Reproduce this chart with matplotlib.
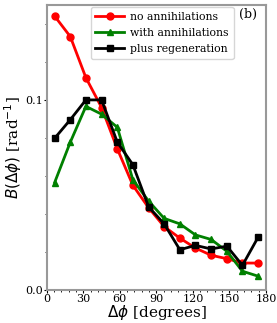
import numpy as np
import matplotlib
matplotlib.use("Agg")
import matplotlib.pyplot as plt
from matplotlib.ticker import MultipleLocator, AutoMinorLocator

# bin centres (14 bins over 0-180 degrees)
dphi = [6.4, 19.3, 32.1, 45.0, 57.9, 70.7, 83.6, 96.4, 109.3, 122.1, 135.0, 147.9, 160.7, 173.6]

no_annih = [0.1441, 0.1333, 0.1117, 0.0960, 0.0743, 0.0551, 0.0433, 0.0334,
            0.0273, 0.0221, 0.0183, 0.0165, 0.0142, 0.0142]
with_annih = [0.0565, 0.0778, 0.0966, 0.0925, 0.0856, 0.0580, 0.0468, 0.0377,
              0.0348, 0.0290, 0.0266, 0.0204, 0.0099, 0.0073]
plus_regen = [0.0798, 0.0896, 0.1000, 0.1000, 0.0778, 0.0659, 0.0438, 0.0348,
              0.0212, 0.0235, 0.0216, 0.0231, 0.0130, 0.0278]

plt.rcParams["font.family"] = "DejaVu Serif"
plt.rcParams["mathtext.fontset"] = "dejavusans"

fig = plt.figure(figsize=(2.77, 3.23), dpi=100)
ax = fig.add_axes([0.169, 0.102, 0.791, 0.883])

ax.plot(dphi, no_annih, "o-", color="red", lw=2, ms=5, label="no annihilations")
ax.plot(dphi, with_annih, "^-", color="green", lw=2, ms=5, label="with annihilations")
ax.plot(dphi, plus_regen, "s-", color="black", lw=2, ms=5, label="plus regeneration")

ax.set_xlim(0, 180)
ax.set_ylim(0, 0.15)
ax.xaxis.set_major_locator(MultipleLocator(30))
ax.xaxis.set_minor_locator(AutoMinorLocator(5))
ax.yaxis.set_major_locator(MultipleLocator(0.1))
ax.yaxis.set_minor_locator(MultipleLocator(0.02))
ax.tick_params(labelsize=8, pad=0.5, length=2.5)
ax.tick_params(which="minor", length=1.5)

for s in ax.spines.values():
    s.set_color("#999999")
    s.set_linewidth(1.5)

ax.set_xlabel(r"$\Delta\phi$ [degrees]", fontsize=11, labelpad=-1)
ax.set_ylabel(r"$B(\Delta\phi)$ [rad$^{-1}$]", fontsize=11, labelpad=1)

ax.legend(loc="upper left", bbox_to_anchor=(0.19, 1.0), fontsize=7.8,
          borderaxespad=0.2, handlelength=2.6, labelspacing=0.55,
          handletextpad=0.6, borderpad=0.45)
ax.text(0.918, 0.965, "(b)", transform=ax.transAxes, fontsize=9,
        ha="center", va="center")

fig.savefig("out.png", dpi=100)
